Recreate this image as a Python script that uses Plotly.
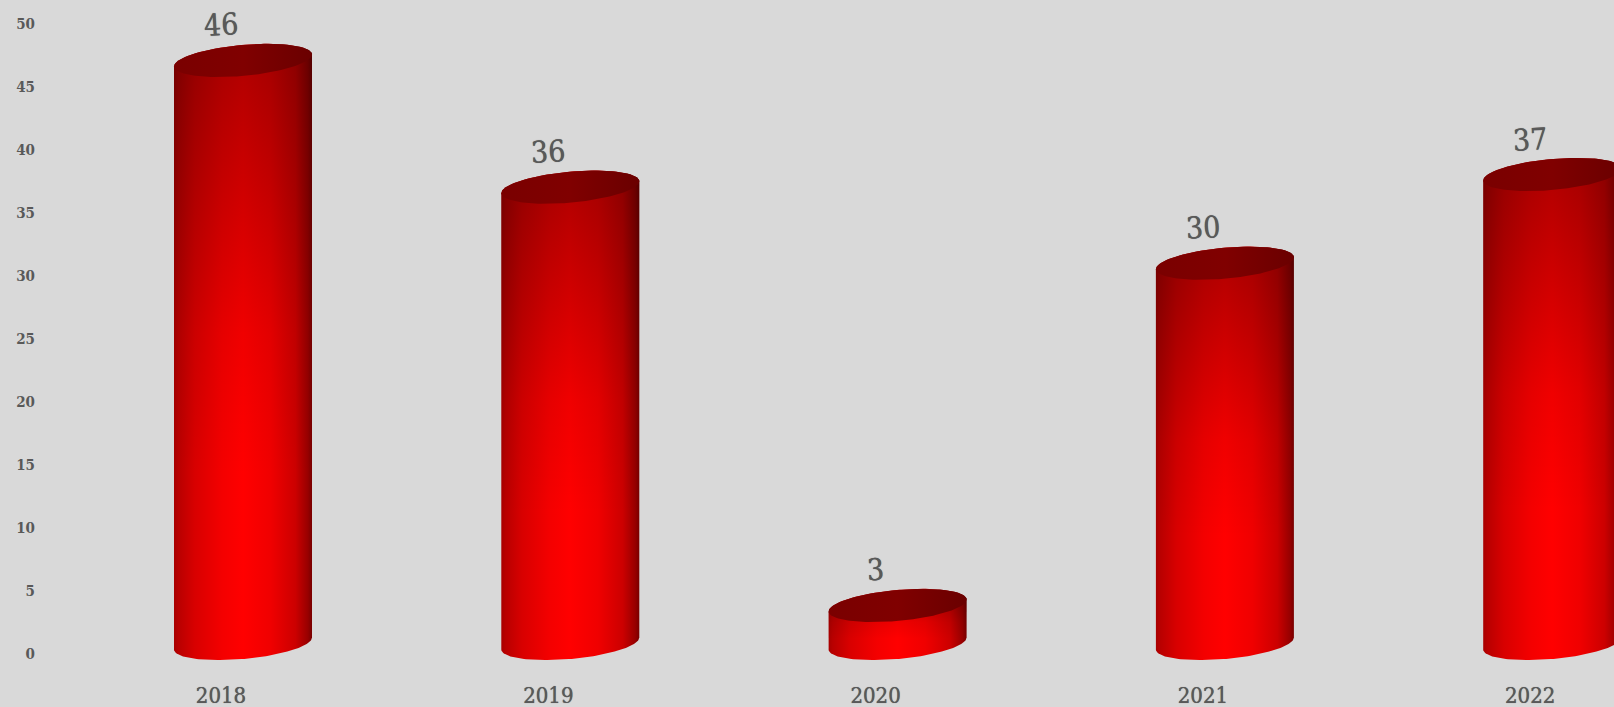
import numpy as np
import plotly.graph_objects as go

# ---- data ----
years = ["2018", "2019", "2020", "2021", "2022"]
values = [46, 36, 3, 30, 37]
y_ticks = [0, 5, 10, 15, 20, 25, 30, 35, 40, 45, 50]

# ---- page geometry ----
W, H = 1614, 707
M_L, M_B = 36, 30
PX_PER_CAT = 327.3
PX_PER_UNIT = 12.6
X0_PX = 221.0   # pixel of first category tick
Y0_PX = 654.0   # pixel of value 0 tick
# ---- pseudo 3D projection (px) ----
DX, DY = 22.0, 10.5   # cylinder offset from the tick position
A, B, C = 69.0, 15.5, -6.0  # ellipse half width, half depth, tilt
HEIGHT_SCALE = 1.006
LABEL_GAP = 35.5
TEXT = "#595959"
FONT = "DejaVu Serif Condensed"
THICK = "0 0 0.7px #595959"

xr = [(M_L - X0_PX) / PX_PER_CAT, (W - X0_PX) / PX_PER_CAT]
yr = [(Y0_PX - (H - M_B)) / PX_PER_UNIT, Y0_PX / PX_PER_UNIT]


def ellipse(i, level, t):
    x = i + (DX + A * np.cos(t)) / PX_PER_CAT
    y = level + (DY - (B * np.sin(t) + C * np.cos(t))) / PX_PER_UNIT
    return x, y


fig = go.Figure()
H_SCALE = [[0, "#a80000"], [0.03, "#b80000"], [0.15, "#d80000"], [0.35, "#f40000"], [0.5, "#ff0000"],
           [0.7, "#f00000"], [0.88, "#cc0000"], [0.97, "#980000"], [1, "#780000"]]
V_SCALE = [[0, "rgba(0,0,0,0)"], [0.3, "rgba(0,0,0,0)"], [0.53, "rgba(0,0,0,0.06)"], [1, "rgba(0,0,0,0.32)"]]
T_SCALE = [[0, "#7a0000"], [0.5, "#800000"], [1, "#6a0000"]]

for i, v in enumerate(values):
    top = v * HEIGHT_SCALE
    t_front = np.linspace(0, np.pi, 80)
    bx, by = ellipse(i, 0, t_front)
    tx, ty = ellipse(i, top, t_front + np.pi)
    sx = np.r_[bx, tx, bx[0]]
    sy = np.r_[by, ty, by[0]]
    common = dict(mode="lines", line=dict(width=0), fill="toself", hoverinfo="skip", showlegend=False)
    fig.add_trace(go.Scatter(x=sx, y=sy, fillgradient=dict(type="horizontal", colorscale=H_SCALE), **common))
    fig.add_trace(go.Scatter(x=sx, y=sy, fillgradient=dict(type="vertical", colorscale=V_SCALE), **common))
    t_all = np.linspace(0, 2 * np.pi, 160)
    ex, ey = ellipse(i, top, t_all)
    fig.add_trace(go.Scatter(x=ex, y=ey, fillgradient=dict(type="horizontal", colorscale=T_SCALE), **common))
    fig.add_annotation(x=i, y=top + (DY + LABEL_GAP) / PX_PER_UNIT, xref="x", yref="y", text=str(v),
                       showarrow=False, textangle=-3,
                       font=dict(family=FONT, size=30, color=TEXT, shadow=THICK))

fig.update_layout(
    width=W, height=H, margin=dict(l=M_L, r=0, t=0, b=M_B, pad=0, autoexpand=False),
    paper_bgcolor="#d9d9d9", plot_bgcolor="#d9d9d9", showlegend=False,
    xaxis=dict(range=xr, tickvals=list(range(len(years))), ticktext=years, showgrid=False, zeroline=False,
               showline=False, ticks="", ticklabelstandoff=3,
               tickfont=dict(family=FONT, size=22, color=TEXT, shadow=THICK), fixedrange=True),
    yaxis=dict(range=yr, tickvals=y_ticks, showgrid=False, zeroline=False, showline=False, ticks="",
               tickfont=dict(family=FONT, size=15, color=TEXT, weight="bold"), fixedrange=True),
)
fig.write_html("out.html", config=dict(displayModeBar=False),
               post_script="document.body.style.margin='0';document.body.style.background='#d9d9d9';document.body.style.overflow='hidden';")
